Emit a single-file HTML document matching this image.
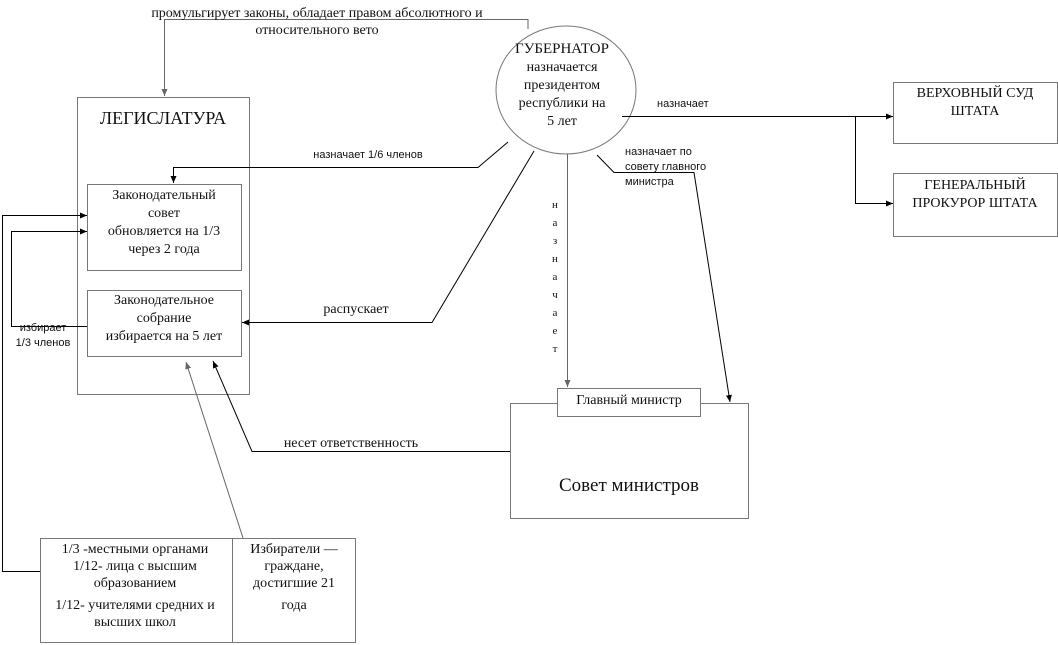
<!DOCTYPE html>
<html><head><meta charset="utf-8"><style>
body{margin:0;background:#fff}
svg{display:block}
text{font-family:"Liberation Serif","DejaVu Serif",serif;fill:#111}
.s{font-family:"Liberation Sans","DejaVu Sans",sans-serif;font-size:11px}
.m{font-size:14px}
</style></head><body>
<svg width="1058" height="645" viewBox="0 0 1058 645" xmlns="http://www.w3.org/2000/svg">
<defs>
<marker id="a" markerWidth="8" markerHeight="8" refX="7" refY="4" orient="auto" markerUnits="userSpaceOnUse"><path d="M0,1 L7,4 L0,7z" fill="#000"/></marker>
<marker id="g" markerWidth="8" markerHeight="8" refX="7" refY="4" orient="auto" markerUnits="userSpaceOnUse"><path d="M0,1 L7,4 L0,7z" fill="#666"/></marker>
</defs>
<g fill="none" stroke="#777" stroke-width="1">
<rect x="77.5" y="97.5" width="172" height="297"/>
<rect x="87.5" y="184.5" width="154" height="86"/>
<rect x="87.5" y="290.5" width="154" height="66"/>
<ellipse cx="566" cy="90" rx="70" ry="64"/>
<rect x="893.5" y="82.5" width="164" height="61"/>
<rect x="893.5" y="173.5" width="164" height="63"/>
<rect x="510.5" y="403.5" width="238" height="115"/>
<rect x="557.5" y="388.5" width="143" height="28" fill="#fff"/>
<rect x="40.5" y="538.5" width="315" height="104"/>
<line x1="232.5" y1="538" x2="232.5" y2="643"/>
</g>
<g fill="none" stroke="#666" stroke-width="1">
<polyline points="528,29 528,19.5 164.5,19.5 164.5,96" marker-end="url(#g)"/>
<polyline points="567.5,154 567.5,387" marker-end="url(#g)"/>
<line x1="243" y1="538" x2="186" y2="362" marker-end="url(#g)"/>
</g>
<g fill="none" stroke="#000" stroke-width="1">
<polyline points="508,142 478,167.5 173.5,167.5 173.5,183" marker-end="url(#a)"/>
<polyline points="534,151 432,322.5 242,322.5" marker-end="url(#a)"/>
<polyline points="622,116.5 893,116.5" marker-end="url(#a)"/>
<polyline points="855.5,116.5 855.5,203.5 893,203.5" marker-end="url(#a)"/>
<polyline points="597,155 614,172.5 694,172.5 730,402" marker-end="url(#a)"/>
<polyline points="510,451.5 252,451.5 213,361" marker-end="url(#a)"/>
<polyline points="40,571.5 2.5,571.5 2.5,215.5 87,215.5" marker-end="url(#a)"/>
<polyline points="87,326.5 11.5,326.5 11.5,231.5 87,231.5" marker-end="url(#a)"/>
</g>
<text x="317" y="17" class="m" text-anchor="middle">промульгирует законы, обладает правом абсолютного и</text>
<text x="317" y="34" class="m" text-anchor="middle">относительного вето</text>
<text x="163" y="124" font-size="18" text-anchor="middle">ЛЕГИСЛАТУРА</text>
<g class="m" text-anchor="middle">
<text x="164" y="199">Законодательный</text>
<text x="164" y="217">совет</text>
<text x="164" y="235">обновляется на 1/3</text>
<text x="164" y="253">через 2 года</text>
<text x="164" y="304">Законодательное</text>
<text x="164" y="322">собрание</text>
<text x="164" y="340">избирается на 5 лет</text>
<text x="562" y="53" font-size="15">ГУБЕРНАТОР</text>
<text x="562" y="71">назначается</text>
<text x="562" y="89">президентом</text>
<text x="562" y="107">республики на</text>
<text x="562" y="125">5 лет</text>
<text x="975" y="97">ВЕРХОВНЫЙ СУД</text>
<text x="975" y="115">ШТАТА</text>
<text x="975" y="189">ГЕНЕРАЛЬНЫЙ</text>
<text x="975" y="207">ПРОКУРОР ШТАТА</text>
<text x="629" y="404">Главный министр</text>
<text x="629" y="491" font-size="19">Совет министров</text>
<text x="135" y="553">1/3 -местными органами</text>
<text x="135" y="570">1/12- лица с высшим</text>
<text x="135" y="587">образованием</text>
<text x="135" y="609">1/12- учителями средних и</text>
<text x="135" y="626">высших школ</text>
<text x="294" y="553">Избиратели —</text>
<text x="294" y="570">граждане,</text>
<text x="294" y="587">достигшие 21</text>
<text x="294" y="609">года</text>
<text x="351" y="447">несет ответственность</text>
<text x="356" y="313">распускает</text>
</g>
<text x="368" y="158" class="s" text-anchor="middle">назначает 1/6 членов</text>
<text x="657" y="107" class="s">назначает</text>
<text x="625" y="155" class="s">назначает по</text>
<text x="625" y="170" class="s">совету главного</text>
<text x="625" y="185" class="s">министра</text>
<text x="43" y="331" class="s" text-anchor="middle">избирает</text>
<text x="43" y="346" class="s" text-anchor="middle">1/3 членов</text>
<g class="s" text-anchor="middle" font-size="12">
<text x="555" y="208">н</text><text x="555" y="226">а</text><text x="555" y="244">з</text><text x="555" y="262">н</text><text x="555" y="280">а</text><text x="555" y="298">ч</text><text x="555" y="316">а</text><text x="555" y="334">е</text><text x="555" y="352">т</text>
</g>
</svg>
</body></html>
